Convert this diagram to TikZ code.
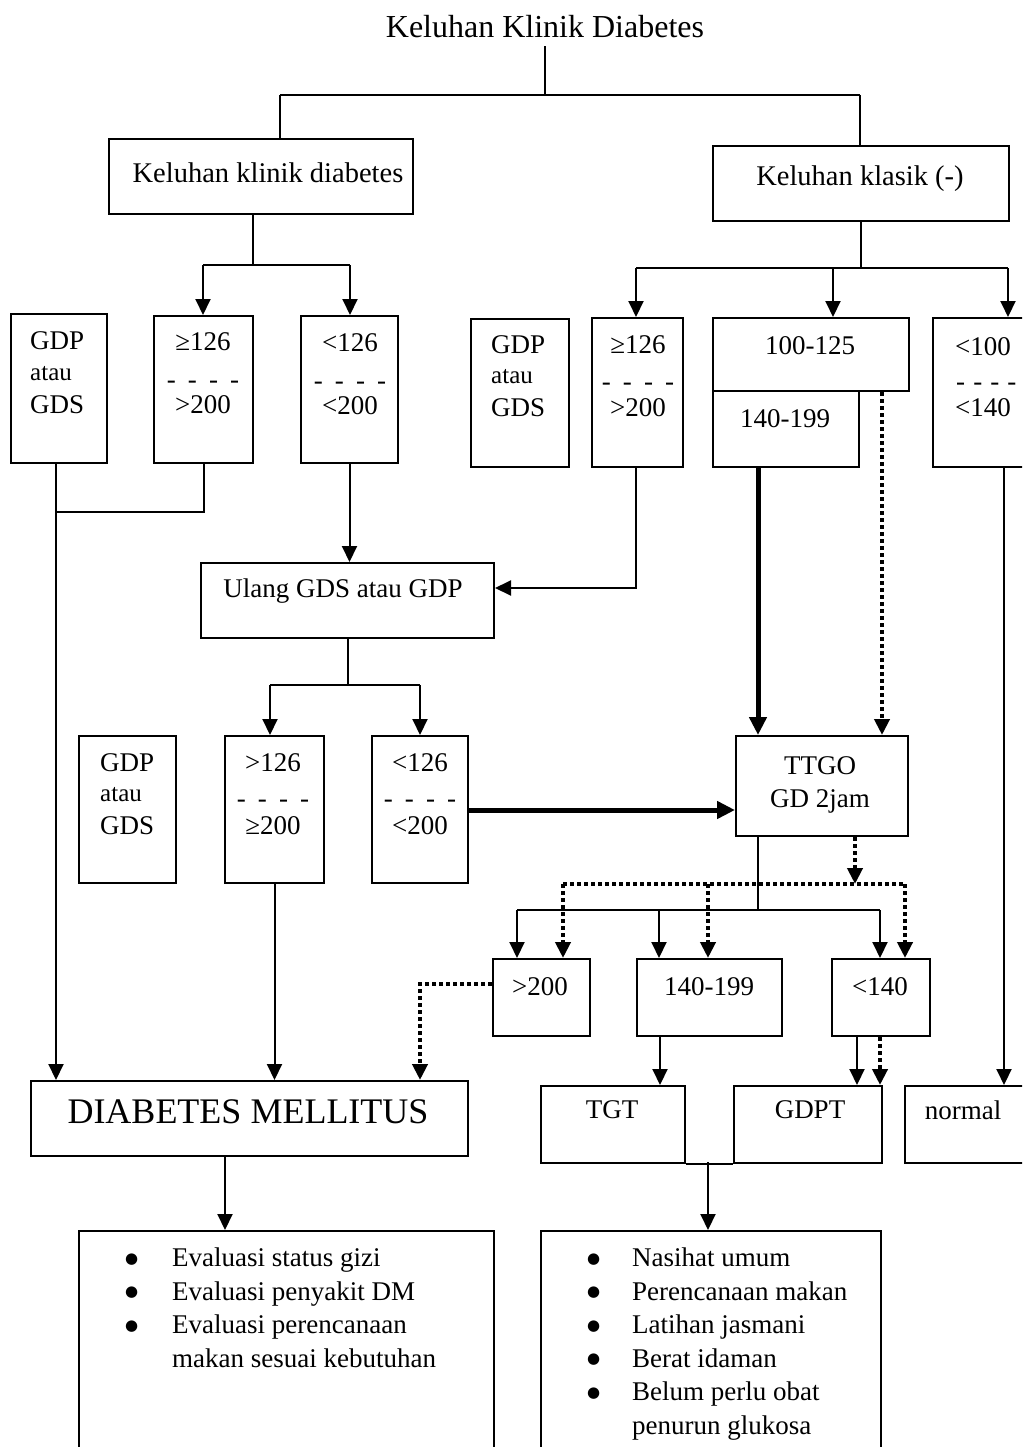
\documentclass[tikz,border=0pt]{standalone}
\usepackage{fontspec}
\setmainfont{Liberation Serif}
\newfontfamily\dvfont{DejaVu Sans}
\usetikzlibrary{arrows.meta}
\newcommand\fsz[2]{\fontsize{#1}{#2}\selectfont}
\newcommand\mybox[5]{\node[box, anchor=north west, minimum width={#4pt-#2pt}, minimum height={#5pt-#3pt}] (#1) at (#2,#3) {};}
\newcommand\dsh{-\hspace{.45em}-\hspace{.45em}-\hspace{.45em}-}
\newcommand\dshs{-\hspace{.3em}-\hspace{.3em}-\hspace{.3em}-}
\newcommand\bul{\smash{\raisebox{3.5pt}{\dvfont\fontsize{15}{15}\selectfont ●}}}
\tikzset{
 ln/.style={line width=2pt},
 box/.style={draw, line width=2pt, inner sep=0pt},
 arr/.style={ln, -{Triangle[width=15pt,length=16pt]}},
 thk/.style={line width=5pt, -{Triangle[width=17pt,length=18pt]}},
 dot/.style={line width=4pt, dash pattern=on 4pt off 3pt},
 dotarr/.style={dot, -{Triangle[width=15pt,length=16pt]}},
 txt/.style={inner sep=0pt, font=\fsz{27}{32}},
 sm/.style={inner sep=0pt, font=\fsz{25}{30}},
 dn/.style={txt, yshift=-11pt},
}
\begin{document}
\begin{tikzpicture}[x=1pt,y=-1pt]
\useasboundingbox (0,0) rectangle (1022,1447);
\clip (0,0) rectangle (1022,1447);
% boxes
\mybox{kkd}{108}{138}{412}{213}
\mybox{kkl}{712}{145}{1008}{220}
\mybox{gL}{10}{313}{106}{462}
\mybox{vLa}{153}{315}{252}{462}
\mybox{vLb}{300}{315}{397}{462}
\mybox{gR}{470}{318}{568}{466}
\mybox{vRa}{591}{317}{682}{466}
\mybox{rA}{712}{317}{908}{390}
\mybox{rB}{712}{390}{858}{466}
\mybox{rC}{932}{317}{1060}{466}
\mybox{ulang}{200}{562}{493}{637}
\mybox{gM}{78}{735}{175}{882}
\mybox{vMa}{224}{735}{323}{882}
\mybox{vMb}{371}{735}{467}{882}
\mybox{ttgo}{735}{735}{907}{835}
\mybox{o1}{492}{958}{589}{1035}
\mybox{o2}{636}{958}{781}{1035}
\mybox{o3}{831}{958}{929}{1035}
\mybox{dm}{30}{1080}{467}{1155}
\mybox{tgt}{540}{1085}{684}{1162}
\mybox{gdpt}{733}{1085}{881}{1162}
\mybox{nor}{904}{1085}{1060}{1162}
\mybox{adv1}{78}{1230}{493}{1480}
\mybox{adv2}{540}{1230}{880}{1480}
% texts
\node[inner sep=0pt, font=\fsz{32}{38}] (title) at (545,27) {Keluhan Klinik Diabetes};
\node[inner sep=0pt, font=\fsz{28.5}{34}] (tkkd) at (268,173) {Keluhan klinik diabetes};
\node[inner sep=0pt, font=\fsz{28.5}{34}] (tkkl) at (860,179) {Keluhan klasik (-)};
% row 1 left
\node[txt, anchor=west] (gL1) at (30,341) {GDP};
\node[sm, anchor=west] (gL2) at (30,374) {atau};
\node[txt, anchor=west] (gL3) at (30,405) {GDS};
\node[txt] (vLa1) at (203,342) {≥126};
\node[dn] (vLa2) at (203,374) {\dsh};
\node[txt] (vLa3) at (203,405) {>200};
\node[txt] (vLb1) at (350,343) {<126};
\node[dn] (vLb2) at (350,375) {\dsh};
\node[txt] (vLb3) at (350,406) {<200};
% row 1 right
\node[txt, anchor=west] (gR1) at (491,345) {GDP};
\node[sm, anchor=west] (gR2) at (491,377) {atau};
\node[txt, anchor=west] (gR3) at (491,408) {GDS};
\node[txt] (vRa1) at (638,345) {≥126};
\node[dn] (vRa2) at (638,376) {\dsh};
\node[txt] (vRa3) at (638,408) {>200};
\node[txt] (rA1) at (810,346) {100-125};
\node[txt] (rB1) at (785,419) {140-199};
\node[txt, anchor=west] (rC1) at (955,347) {<100};
\node[dn, anchor=west] (rC2) at (956,376) {\dshs};
\node[txt, anchor=west] (rC3) at (955,408) {<140};
% middle
\node[txt] (tul) at (343,591) {Ulang GDS atau GDP};
\node[txt, anchor=west] (gM1) at (100,763) {GDP};
\node[sm, anchor=west] (gM2) at (100,795) {atau};
\node[txt, anchor=west] (gM3) at (100,826) {GDS};
\node[txt] (vMa1) at (273,763) {>126};
\node[dn] (vMa2) at (273,793) {\dsh};
\node[txt] (vMa3) at (273,826) {≥200};
\node[txt] (vMb1) at (420,763) {<126};
\node[dn] (vMb2) at (420,793) {\dsh};
\node[txt] (vMb3) at (420,826) {<200};
\node[txt] (tt1) at (820,766) {TTGO};
\node[txt] (tt2) at (820,801) {GD 2jam};
% row 4
\node[txt] (o1t) at (540,987) {>200};
\node[txt] (o2t) at (709,987) {140-199};
\node[txt] (o3t) at (880,987) {<140};
\node[inner sep=0pt, font=\fsz{36}{42}] (dmt) at (248,1112) {DIABETES MELLITUS};
\node[txt] (tgtt) at (612,1110) {TGT};
\node[txt] (gdptt) at (810,1110) {GDPT};
\node[txt] (nort) at (963,1110) {normal};
% lists
\node[anchor=north west, inner sep=0pt, font=\fsz{27}{33.5}] (list1) at (125,1243)
 {\begin{tabular}{@{}p{47pt}@{}l@{}}\bul & Evaluasi status gizi\\ \bul & Evaluasi penyakit DM\\ \bul & Evaluasi perencanaan\\ & makan sesuai kebutuhan\end{tabular}};
\node[anchor=north west, inner sep=0pt, font=\fsz{27}{33.5}] (list2) at (587,1243)
 {\begin{tabular}{@{}p{45pt}@{}l@{}}\bul & Nasihat umum\\ \bul & Perencanaan makan\\ \bul & Latihan jasmani\\ \bul & Berat idaman\\ \bul & Belum perlu obat\\ & penurun glukosa\end{tabular}};
% connectors top
\coordinate (t0) at (545,95);
\coordinate (tL) at (280,95);
\coordinate (tR) at (860,95);
\draw[ln] ([yshift=-8pt]title.south) -- (t0);
\draw[ln] (tL) -- (tR);
\draw[ln] (tL) -- (tL |- kkd.north);
\draw[ln] (tR) -- (tR |- kkl.north);
% left branch
\coordinate (j1) at (253,265);
\coordinate (j1a) at (203,265);
\coordinate (j1b) at (350,265);
\draw[ln] (j1 |- kkd.south) -- (j1);
\draw[ln] (j1a) -- (j1b);
\draw[arr] (j1a) -- (j1a |- vLa.north);
\draw[arr] (j1b) -- (j1b |- vLb.north);
% right branch
\coordinate (j2a) at (636,268);
\coordinate (j2b) at (833,268);
\coordinate (j2c) at (1008,268);
\draw[ln] (kkl.south) -- (kkl.south |- j2a);
\draw[ln] (j2a) -- (j2c);
\draw[arr] (j2a) -- (j2a |- vRa.north);
\draw[arr] (j2b) -- (j2b |- rA.north);
\draw[arr] (j2c) -- (j2c |- rC.north);
% to DM from left
\coordinate (k1) at (56,512);
\draw[arr] (k1 |- gL.south) -- (k1 |- dm.north);
\draw[ln] (vLa.south) -- (vLa.south |- k1) -- (k1);
\draw[arr] (vLb.south) -- (vLb.south |- ulang.north);
\coordinate (u1) at (636,588);
\draw[arr] (u1 |- vRa.south) -- (u1) -- (u1 -| ulang.east);
% from ulang
\coordinate (j3) at (347,685);
\coordinate (j3a) at (270,685);
\coordinate (j3b) at (420,685);
\draw[ln] (ulang.south) -- (ulang.south |- j3);
\draw[ln] (j3a) -- (j3b);
\draw[arr] (j3a) -- (j3a |- vMa.north);
\draw[arr] (j3b) -- (j3b |- vMb.north);
\draw[arr] (vMa.south) -- (vMa.south |- dm.north);
\coordinate (m1) at (467,810);
\draw[thk] (m1 -| vMb.east) -- (m1 -| ttgo.west);
% into TTGO
\coordinate (p1) at (758,600);
\coordinate (p2) at (882,600);
\coordinate (p3) at (1004,600);
\draw[thk] (p1 |- rB.south) -- (p1 |- ttgo.north);
\draw[dotarr] (p2 |- rA.south) -- (p2 |- ttgo.north);
\draw[arr] (p3 |- rC.south) -- (p3 |- nor.north);
% from TTGO
\coordinate (q0) at (758,910);
\coordinate (qa) at (517,910);
\coordinate (qb) at (659,910);
\coordinate (qc) at (880,910);
\draw[ln] (q0 |- ttgo.south) -- (q0);
\draw[ln] (qa) -- (qc);
\draw[arr] (qa) -- (qa |- o1.north);
\draw[arr] (qb) -- (qb |- o2.north);
\draw[arr] (qc) -- (qc |- o3.north);
\coordinate (d0) at (855,884);
\coordinate (da) at (563,884);
\coordinate (db) at (708,884);
\coordinate (dc) at (905,884);
\draw[dotarr] (d0 |- ttgo.south) -- (d0);
\draw[dot] (da) -- (dc);
\draw[dotarr] (da) -- (da |- o1.north);
\draw[dotarr] (db) -- (db |- o2.north);
\draw[dotarr] (dc) -- (dc |- o3.north);
% row 4 outputs
\coordinate (s1) at (660,1000);
\coordinate (s2) at (857,1000);
\coordinate (s3) at (880,1000);
\draw[arr] (s1 |- o2.south) -- (s1 |- tgt.north);
\draw[arr] (s2 |- o3.south) -- (s2 |- gdpt.north);
\draw[dotarr] (s3 |- o3.south) -- (s3 |- gdpt.north);
\coordinate (e1) at (420,984);
\draw[dotarr] (e1 -| o1.west) -- (e1) -- (e1 |- dm.north);
% bottom
\coordinate (f1) at (225,1200);
\draw[arr] (f1 |- dm.south) -- (f1 |- adv1.north);
\coordinate (g1) at (708,1162);
\draw[ln] (tgt.south east) -- (gdpt.south west);
\draw[arr] (g1) -- (g1 |- adv2.north);
\end{tikzpicture}
\end{document}
